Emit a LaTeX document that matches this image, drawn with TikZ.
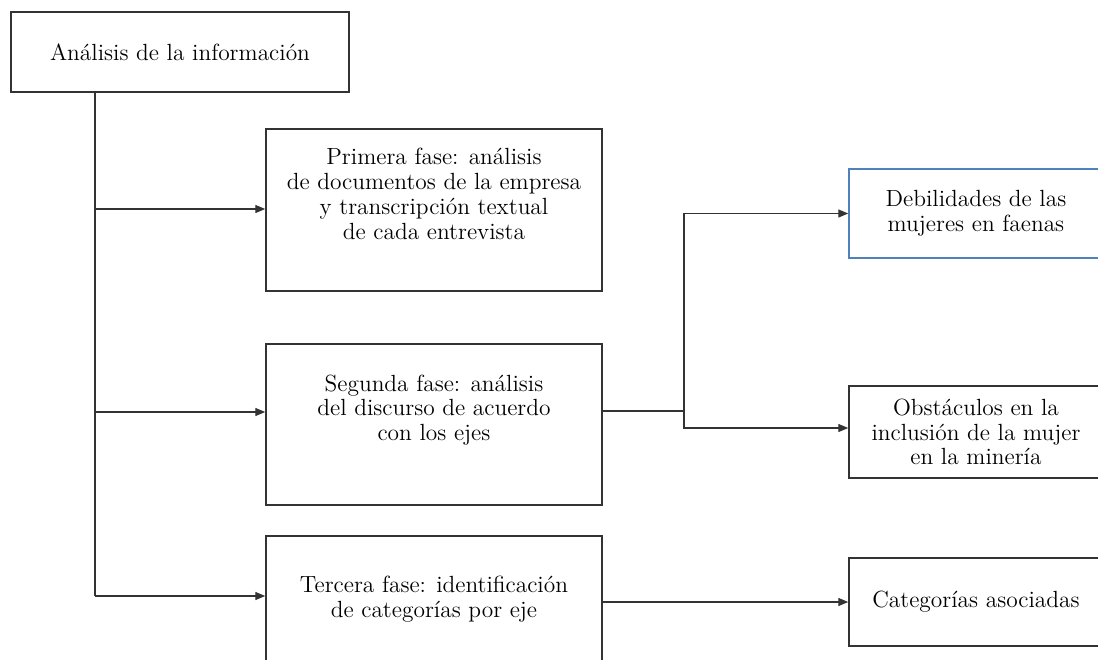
\documentclass[tikz,border=0pt]{standalone}
\usepackage{amsmath}
\usepackage{tikz}
\usetikzlibrary{arrows.meta}

\definecolor{boxblue}{RGB}{79,129,189}
\tikzset{
  box/.style={draw=black!80, line width=0.75pt, inner sep=0pt},
  txt/.style={align=center, font=\fontsize{11.7}{12.4}\selectfont},
  arr/.style={-{Triangle[length=5pt,width=4pt]}, line width=0.7pt, draw=black!80},
  lin/.style={line width=0.7pt, draw=black!80}
}

\begin{document}
\begin{tikzpicture}[x=0.5pt,y=-0.5pt]
\useasboundingbox (0,0) rectangle (1098,659);
\clip (0,0) rectangle (1098,659);
% the boxes
\node[box,txt,minimum width=169pt,minimum height=40pt] (info) at (180,52) {Análisis de la información};
\node[box,minimum width=168pt,minimum height=81pt] (fase1) at (434,210) {};
\node[box,minimum width=168pt,minimum height=80.5pt] (fase2) at (434,424.5) {};
\node[box,minimum width=168pt,minimum height=72pt] (fase3) at (434,608) {};
\node[box,txt,draw=boxblue,minimum width=127pt,minimum height=44.5pt] (deb) at (976,213.5) {Debilidades de las\\mujeres en faenas};
\node[box,txt,minimum width=127pt,minimum height=46pt] (obst) at (976,432) {Obstáculos en la\\inclusión de la mujer\\en la minería};
\node[box,txt,minimum width=127pt,minimum height=44pt] (cat) at (976,602) {Categorías asociadas};
% the texts of the phases
\node[txt] (fase1txt) at (434,194) {Primera fase: análisis\\de documentos de la empresa\\y transcripción textual\\de cada entrevista};
\node[txt] (fase2txt) at (434,410) {Segunda fase: análisis\\del discurso de acuerdo\\con los ejes};
\node[txt] (fase3txt) at (434,599) {Tercera fase: identificación\\de categorías por eje};
% the connectors
\coordinate (t0) at (95,92);
\coordinate (t1) at (95,209);
\coordinate (t2) at (95,412);
\coordinate (t3) at (95,596);
\coordinate (j) at (684,411);
\draw[lin] (t0) -- (t3);
\draw[arr] (t1) -- (t1 -| fase1.west);
\draw[arr] (t2) -- (t2 -| fase2.west);
\draw[arr] (t3) -- (t3 -| fase3.west);
\draw[lin] (fase2.east |- j) -- (j);
\draw[arr] (j) |- (deb.west);
\draw[arr] (j) |- ([yshift=2pt]obst.west);
\draw[arr] (fase3.east |- cat.west) -- (cat.west);
\end{tikzpicture}
\end{document}
